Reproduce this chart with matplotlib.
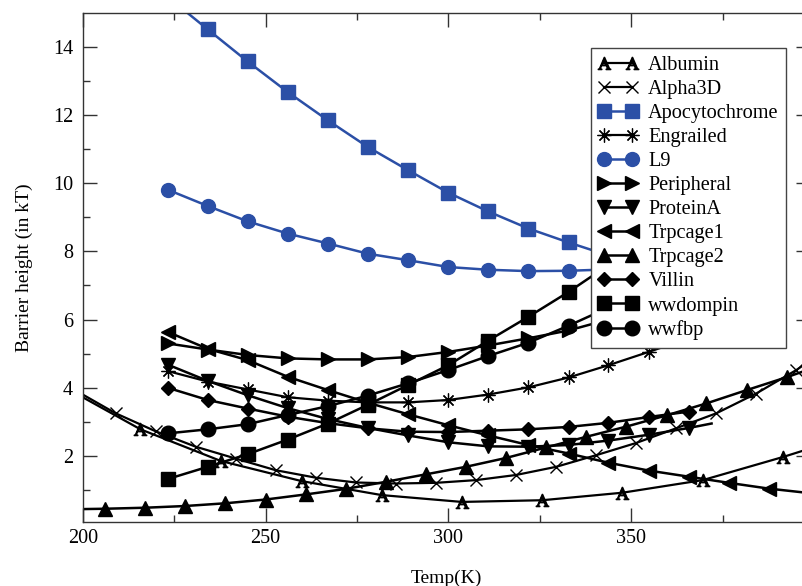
import matplotlib
matplotlib.use("Agg")
import matplotlib.pyplot as plt

plt.rcParams['font.family'] = ['Liberation Serif', 'DejaVu Serif']
plt.rcParams['mathtext.fontset'] = 'stix'

# replica temperatures (K) shared by most systems
temps = [223.2, 234.2, 245.1, 256.1, 267.1, 278.0, 289.0, 300.0, 310.9,
         321.9, 332.9, 343.8, 354.8, 365.8, 376.7, 387.7, 398.7]

apo = [15.47, 14.51, 13.57, 12.67, 11.84, 11.06, 10.38, 9.72, 9.17, 8.67, 8.26, 7.88]
l9 = [9.81, 9.33, 8.88, 8.52, 8.23, 7.93, 7.74, 7.54, 7.46, 7.42, 7.43, 7.47]
wwdompin = [1.32, 1.68, 2.05, 2.48, 2.95, 3.50, 4.08, 4.66, 5.38, 6.08, 6.81, 7.60]
wwfbp = [2.66, 2.78, 2.93, 3.20, 3.46, 3.77, 4.13, 4.52, 4.93, 5.32, 5.82, 6.35]
peripheral = [5.30, 5.12, 4.96, 4.86, 4.83, 4.83, 4.90, 5.05, 5.24, 5.45, 5.68, 6.00]
engrailed = [4.49, 4.18, 3.95, 3.72, 3.62, 3.57, 3.57, 3.64, 3.80, 4.01, 4.30, 4.66, 5.05, 5.45]
villin = [4.00, 3.64, 3.39, 3.15, 2.96, 2.81, 2.71, 2.70, 2.74, 2.78, 2.85, 2.97, 3.14, 3.30]
trpcage1 = [5.64, 5.14, 4.81, 4.32, 3.93, 3.56, 3.22, 2.90, 2.60, 2.32, 2.07, 1.80,
            1.57, 1.39, 1.21, 1.04, 0.91]

# proteinA: markers on the replica grid, curve runs a little past the last one
proteinA_T = temps[:14] + [372.0]
proteinA = [4.68, 4.20, 3.78, 3.40, 3.08, 2.82, 2.60, 2.40, 2.28, 2.27, 2.32, 2.45,
            2.62, 2.82, 2.95]

# fitted curves spanning the whole axis (first and last points carry no marker)
albumin_T = [200.0, 215.8, 237.8, 259.9, 281.8, 303.7, 325.7, 347.6, 369.6, 391.6, 399.0]
albumin = [3.72, 2.78, 1.85, 1.26, 0.85, 0.65, 0.70, 0.92, 1.29, 1.97, 2.22]

alpha3d_T = [200.0, 209.0, 220.0, 230.9, 241.9, 252.8, 263.8, 274.7, 285.7, 296.6,
             307.6, 318.5, 329.5, 340.4, 351.4, 362.3, 373.3, 384.2, 395.2, 399.0]
alpha3d = [3.80, 3.25, 2.72, 2.27, 1.92, 1.58, 1.36, 1.22, 1.19, 1.21, 1.29, 1.44,
           1.68, 2.02, 2.38, 2.81, 3.25, 3.83, 4.52, 4.80]

trpcage2_T = [200.0, 206.1, 217.1, 228.0, 239.0, 250.0, 261.0, 271.9, 282.9, 293.9,
              304.8, 315.8, 326.8, 337.7, 348.7, 359.7, 370.6, 381.6, 392.6, 399.0]
trpcage2 = [0.44, 0.45, 0.48, 0.53, 0.61, 0.72, 0.87, 1.03, 1.24, 1.46, 1.68, 1.94,
            2.25, 2.56, 2.86, 3.19, 3.54, 3.93, 4.31, 4.55]

blue = '#2B4FA6'
W, H = 803, 586
fig = plt.figure(figsize=(W / 100, H / 100), dpi=100)
ax = fig.add_axes([82.7 / W, 1 - 521.7 / H, (810.3 - 82.7) / W, (521.7 - 12.7) / H])

lw = 1.8
ax.plot(albumin_T, albumin, color='k', lw=1.6, marker=r'$\mathrm{A}$', ms=9,
        markevery=slice(1, -1), label='Albumin')
ax.plot(alpha3d_T, alpha3d, color='k', lw=1.6, marker='x', ms=8, mew=1.0,
        markevery=slice(1, -1), label='Alpha3D')
ax.plot(temps[:12], apo, color=blue, lw=lw, marker='s', ms=9.5, label='Apocytochrome')
ax.plot(temps[:14], engrailed, color='k', lw=1.6, marker=(8, 2, 0), ms=10, mew=0.9,
        label='Engrailed')
ax.plot(temps[:12], l9, color=blue, lw=lw, marker='o', ms=10, label='L9')
ax.plot(temps[:12], peripheral, color='k', lw=lw, marker='>', ms=10.5, label='Peripheral')
ax.plot(proteinA_T, proteinA, color='k', lw=lw, marker='v', ms=10.5,
        markevery=slice(0, -1), label='ProteinA')
ax.plot(temps, trpcage1, color='k', lw=lw, marker='<', ms=10.5, label='Trpcage1')
ax.plot(trpcage2_T, trpcage2, color='k', lw=lw, marker='^', ms=10.5,
        markevery=slice(1, -1), label='Trpcage2')
ax.plot(temps[:14], villin, color='k', lw=lw, marker='D', ms=7.5, label='Villin')
ax.plot(temps[:12], wwdompin, color='k', lw=lw, marker='s', ms=10, label='wwdompin')
ax.plot(temps[:12], wwfbp, color='k', lw=lw, marker='o', ms=10.5, label='wwfbp')

ax.set_xlim(200, 399)
ax.set_ylim(0.07, 15)
ax.set_xticks([200, 250, 300, 350])
ax.set_xticks([225, 275, 325, 375], minor=True)
ax.set_yticks([2, 4, 6, 8, 10, 12, 14])
ax.set_yticks([1, 3, 5, 7, 9, 11, 13], minor=True)
ax.tick_params(which='both', direction='in', top=True, right=True, width=1.0,
               color='#333333', labelsize=14.5)
ax.tick_params(which='major', length=10)
ax.tick_params(which='minor', length=5)
ax.tick_params(axis='x', pad=5)
ax.tick_params(axis='y', pad=7)
for s in ax.spines.values():
    s.set_linewidth(1.0)
    s.set_color('#333333')

ax.set_xlabel('Temp(K)', fontsize=14, labelpad=16)
ax.set_ylabel('Barrier height (in kT)', fontsize=14, labelpad=14)

leg = ax.legend(loc='upper left', bbox_to_anchor=(590.7 / W, 1 - 48 / H),
                bbox_transform=fig.transFigure, borderaxespad=0, numpoints=2,
                fontsize=14.6, handlelength=1.96, handletextpad=0.5,
                labelspacing=0.24, borderpad=0.38, fancybox=False,
                framealpha=1, edgecolor='#444444')
leg.get_frame().set_linewidth(1.0)

fig.savefig('out.png', dpi=100)
